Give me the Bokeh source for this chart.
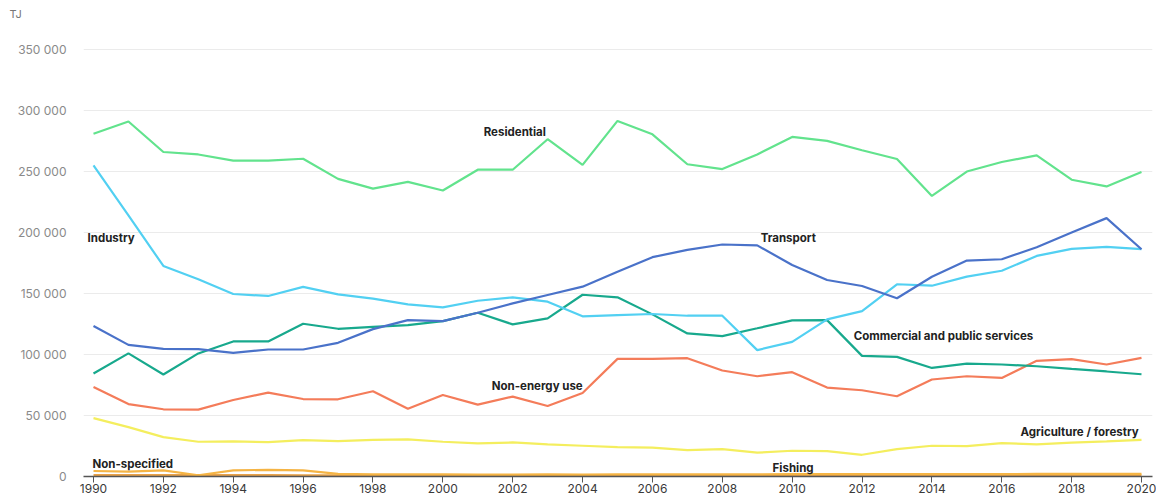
from bokeh.plotting import figure
from bokeh.models import ColumnDataSource, FixedTicker, Range1d
from bokeh.core.properties import value
from bokeh.embed import file_html
from bokeh.resources import INLINE

years = list(range(1990, 2021))

residential = [281000, 291000, 266000, 264000, 259000, 259000, 260500, 244000, 236000, 241500,
               234500, 251500, 251500, 276500, 255500, 291500, 280500, 256000, 252000, 264000,
               278400, 275100, 267500, 260300, 230000, 250000, 257800, 263300, 243300, 237800, 249600]
industry = [255000, 214000, 172600, 161700, 149600, 148000, 155400, 149300, 145800, 141100,
            138600, 144100, 146900, 143300, 131300, 132300, 133200, 131800, 131800, 103600,
            110400, 128800, 135600, 157600, 156400, 163800, 168700, 180800, 186600, 188200, 186400]
transport = [123300, 107900, 104600, 104400, 101400, 104100, 104100, 109600, 120800, 128200,
             127400, 134200, 141900, 148800, 155600, 167900, 179800, 185800, 190200, 189500,
             173400, 161100, 156200, 146100, 163800, 177000, 178100, 188000, 200000, 211800, 186300]
commercial = [84400, 100900, 83600, 100900, 110700, 110700, 125200, 121100, 122700, 124100,
              127400, 134200, 124700, 129600, 149000, 146900, 132900, 117300, 115100, 121500,
              128000, 128200, 98900, 98100, 89000, 92600, 91800, 90400, 88200, 86100, 83800]
non_energy = [73400, 59400, 55100, 54800, 62700, 68800, 63500, 63300, 69900, 55600,
              66800, 58900, 65500, 57800, 68500, 96400, 96400, 97000, 86900, 82200,
              85500, 72900, 70700, 65800, 79500, 82200, 80800, 94800, 96200, 91800, 97200]
agriculture = [47900, 40500, 32300, 28500, 28800, 28200, 29800, 29000, 30100, 30400,
               28500, 27100, 27900, 26300, 25200, 24100, 23600, 21600, 22400, 19500,
               21100, 20800, 17800, 22400, 25200, 24900, 27400, 26300, 27700, 28800, 30100]
non_specified = [4500, 4000, 5000, 1000, 5000, 5500, 5000, 2200, 1800, 1700,
                 1700, 1600, 1600, 1700, 1600, 1700, 1700, 1800, 1800, 1800,
                 1900, 1900, 1900, 2000, 2000, 2000, 2000, 2100, 2100, 2100, 2100]
fishing = [1200, 1200, 1100, 1100, 1100, 1100, 1000, 1000, 1000, 1000,
           1000, 1000, 1000, 900, 900, 900, 900, 900, 900, 900,
           900, 900, 900, 900, 900, 900, 900, 900, 900, 900, 900]

series_names = ["Fishing", "Non-specified", "Agriculture / forestry", "Non-energy use",
                "Commercial and public services", "Industry", "Transport", "Residential"]
series_values = [fishing, non_specified, agriculture, non_energy, commercial, industry, transport, residential]
series_colors = ["#e8a24a", "#f5b444", "#f4ee5e", "#f47c5a", "#18a98d", "#52d0f2", "#4a72c9", "#62e38d"]

y_ticks = [0, 50000, 100000, 150000, 200000, 250000, 300000, 350000]
y_tick_labels = ["0", "50 000", "100 000", "150 000", "200 000", "250 000", "300 000", "350 000"]
x_ticks = list(range(1990, 2021, 2))

label_text = ["Residential", "Industry", "Transport", "Commercial and public services",
              "Non-energy use", "Agriculture / forestry", "Non-specified", "Fishing"]
label_x = [2001.17, 1989.83, 2009.1, 2011.76, 2001.4, 2019.92, 1989.97, 2009.44]
label_y = [282800, 195600, 195600, 115100, 74000, 36200, 9900, 6600]
label_align = ["left", "left", "left", "left", "left", "right", "left", "left"]

FONT = "Inter"

p = figure(width=1156, height=496, output_backend="svg", toolbar_location=None,
           x_range=Range1d(1989.7137, 2020.3149), y_range=Range1d(0, 370540),
           min_border_left=83, min_border_right=4, min_border_top=0, min_border_bottom=20)
p.outline_line_color = None
p.background_fill_color = "white"
p.border_fill_color = "white"

p.title.text = "TJ"
p.title.text_font = FONT
p.title.text_font_size = "11px"
p.title.text_font_style = "normal"
p.title.text_color = "#777777"
p.title.align = "left"
p.title.offset = -74
p.title.standoff = 8

for name, vals, col in zip(series_names, series_values, series_colors):
    src = ColumnDataSource(dict(x=years, y=vals))
    p.line("x", "y", source=src, line_color=col, line_width=2.2)

lsrc = ColumnDataSource(dict(x=label_x, y=label_y, t=label_text, a=label_align))
p.text("x", "y", text="t", source=lsrc, text_align="a", text_baseline="middle",
       text_font=value(FONT), text_font_style="bold", text_font_size="11.5px",
       text_color="#222222")

p.xgrid.grid_line_color = None
p.ygrid.grid_line_color = "#ebebeb"
p.ygrid.grid_line_width = 1

p.yaxis.ticker = FixedTicker(ticks=y_ticks)
p.yaxis.major_label_overrides = {t: l for t, l in zip(y_ticks, y_tick_labels)}
p.yaxis.axis_line_color = None
p.yaxis.major_tick_line_color = None
p.yaxis.minor_tick_line_color = None
p.yaxis.major_label_standoff = 11
p.yaxis.major_label_text_font = FONT
p.yaxis.major_label_text_font_size = "12px"
p.yaxis.major_label_text_color = "#8a8a8a"

p.xaxis.ticker = FixedTicker(ticks=x_ticks)
p.xaxis.axis_line_color = "#555555"
p.xaxis.axis_line_width = 1.5
p.xaxis.major_tick_line_color = "#555555"
p.xaxis.major_tick_out = 6
p.xaxis.major_tick_in = 0
p.xaxis.minor_tick_line_color = None
p.xaxis.major_label_standoff = 1
p.xaxis.major_label_text_font = FONT
p.xaxis.major_label_text_font_size = "12px"
p.xaxis.major_label_text_color = "#3a3a3a"

open("out.html", "w").write(file_html(p, INLINE))
